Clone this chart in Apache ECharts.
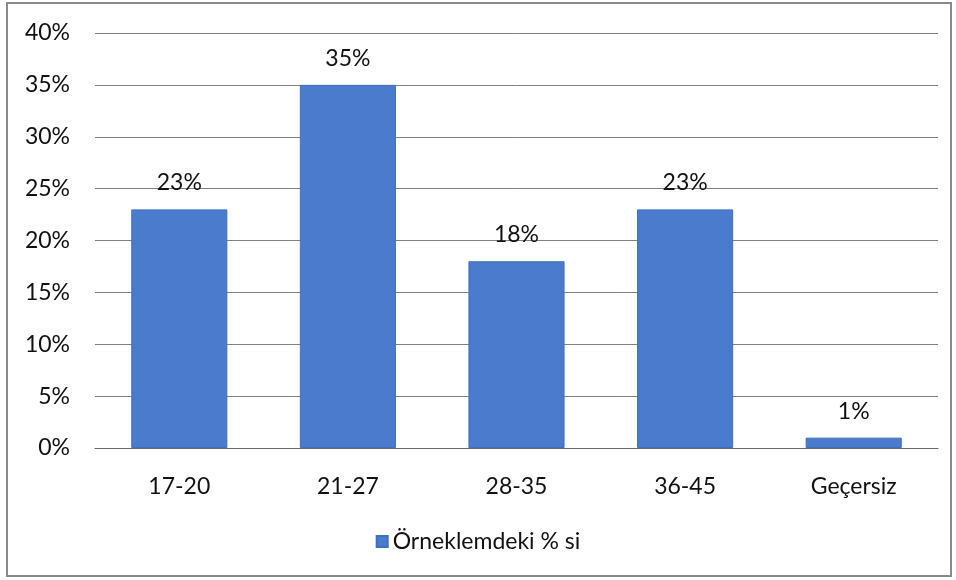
<!DOCTYPE html>
<html>
<head>
<meta charset="utf-8">
<script src="https://cdn.jsdelivr.net/npm/echarts@6/dist/echarts.min.js"></script>
<style>
  html, body { margin: 0; padding: 0; background: #fff; }
  #chart { width: 956px; height: 580px; }
</style>
</head>
<body>
<div id="chart"></div>
<script>
const categories = ['17-20', '21-27', '28-35', '36-45', 'Geçersiz']
const shares = [23, 35, 18, 23, 1]
const seriesName = 'Örneklemdeki % si'

const font = 'Lato, "Open Sans", sans-serif'
const chart = echarts.init(document.getElementById('chart'), null, { renderer: 'canvas' })

chart.setOption({
  backgroundColor: '#fff',
  animation: false,
  textStyle: { fontFamily: font },
  graphic: [
    {
      type: 'rect',
      shape: { x: 7, y: 3, width: 944, height: 573 },
      style: { fill: 'none', stroke: '#8a8a8a', lineWidth: 2 },
      silent: true,
    },
  ],
  grid: { left: 95, right: 18, top: 33, bottom: 132 },
  legend: {
    bottom: 22,
    left: 'center',
    icon: 'rect',
    itemWidth: 11,
    itemHeight: 11,
    itemGap: 6,
    textStyle: { color: '#111', fontSize: 23, fontFamily: font },
    data: [seriesName],
  },
  xAxis: {
    type: 'category',
    data: categories,
    axisTick: { show: false },
    axisLine: { lineStyle: { color: '#666', width: 1 } },
    axisLabel: { color: '#111', fontSize: 23, margin: 27, fontFamily: font },
  },
  yAxis: {
    type: 'value',
    min: 0,
    max: 40,
    interval: 5,
    axisLine: { show: false },
    axisTick: { show: false },
    splitLine: { lineStyle: { color: '#808080', width: 1 } },
    axisLabel: { color: '#111', fontSize: 23, margin: 25, formatter: '{value}%', fontFamily: font },
  },
  series: [
    {
      name: seriesName,
      type: 'bar',
      data: shares,
      barCategoryGap: '43%',
      itemStyle: { color: '#4a7bcc', borderColor: '#3f6fbf', borderWidth: 1 },
      label: {
        show: true,
        position: 'top',
        distance: 15,
        formatter: '{c}%',
        color: '#111',
        fontSize: 23,
        fontFamily: font,
      },
    },
  ],
})
</script>
</body>
</html>
